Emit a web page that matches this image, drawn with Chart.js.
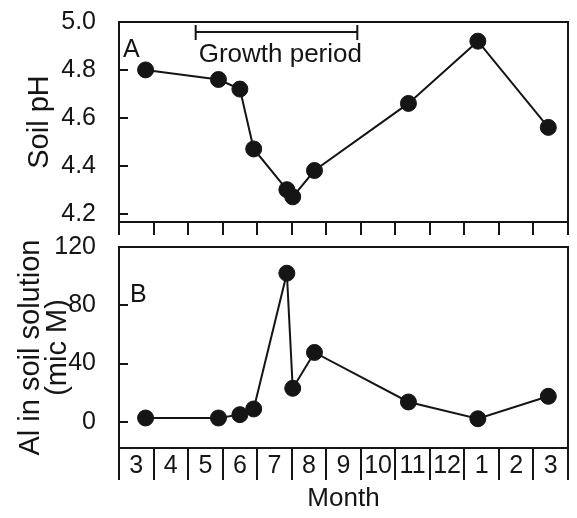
<!DOCTYPE html>
<html><head><meta charset="utf-8">
<script src="https://cdn.jsdelivr.net/npm/chart.js@4/dist/chart.umd.min.js"></script>
<style>
html,body{margin:0;padding:0;background:#fff;}
#wrap{position:relative;width:577px;height:518px;overflow:hidden;background:#fff;}
#c1{position:absolute;left:0;top:0;}
#c2{position:absolute;left:0;top:225px;}
</style></head><body>
<div id="wrap">
<canvas id="c1" width="577" height="240"></canvas>
<canvas id="c2" width="577" height="293"></canvas>
</div>
<script>
// sampling dates, in months counted from 1 March (0 = start of March)
const sampleMonths = [0.77, 2.88, 3.50, 3.90, 4.86, 5.03, 5.66, 8.38, 10.39, 12.43];
const phValues = [4.80, 4.76, 4.72, 4.47, 4.30, 4.27, 4.38, 4.66, 4.92, 4.56];
const alValues = [2.6, 2.6, 4.9, 8.8, 102, 23, 47.6, 13.6, 2.1, 17.5];
const monthLabels = ['3','4','5','6','7','8','9','10','11','12','1','2','3'];
const phTicks = [4.2, 4.4, 4.6, 4.8, 5.0];
const alTicks = [0, 40, 80, 120];
const growthPeriod = [2.22, 6.9];

const INK = '#151515';
const FONT = "'Liberation Sans', Arial, Helvetica, sans-serif";
Chart.defaults.font.family = FONT;
Chart.defaults.font.size = 25;
Chart.defaults.color = INK;

const frame = {
  id: 'frame',
  beforeDatasetsDraw(chart) {
    const {ctx, chartArea: a} = chart;
    ctx.save();
    ctx.strokeStyle = INK; ctx.lineWidth = 2;
    ctx.strokeRect(a.left, a.top, a.right - a.left, a.bottom - a.top);
    // inward y ticks
    const y = chart.scales.y;
    ctx.beginPath();
    y.ticks.forEach(t => {
      const p = Math.round(y.getPixelForValue(t.value));
      ctx.moveTo(a.left, p); ctx.lineTo(a.left + 9, p);
    });
    ctx.stroke();
    ctx.restore();
  }
};

const annotA = {
  id: 'annotA',
  afterDatasetsDraw(chart) {
    const {ctx, chartArea: a, scales: {x}} = chart;
    ctx.save();
    ctx.fillStyle = INK; ctx.strokeStyle = INK; ctx.lineWidth = 2;
    ctx.font = '25px ' + FONT; ctx.textBaseline = 'alphabetic'; ctx.textAlign = 'left';
    ctx.fillText('A', a.left + 4, a.top + 35);
    const x0 = x.getPixelForValue(growthPeriod[0]), x1 = x.getPixelForValue(growthPeriod[1]);
    const yb = a.top + 10;
    ctx.beginPath();
    ctx.moveTo(x0, yb); ctx.lineTo(x1, yb);
    ctx.moveTo(x0, yb - 7); ctx.lineTo(x0, yb + 8);
    ctx.moveTo(x1, yb - 7); ctx.lineTo(x1, yb + 8);
    ctx.stroke();
    ctx.font = '26px ' + FONT;
    ctx.fillText('Growth period', x0 + 3, a.top + 40);
    ctx.restore();
  }
};

const annotB = {
  id: 'annotB',
  afterDatasetsDraw(chart) {
    const {ctx, chartArea: a} = chart;
    ctx.save();
    ctx.fillStyle = INK;
    ctx.font = '25px ' + FONT; ctx.textBaseline = 'alphabetic'; ctx.textAlign = 'left';
    ctx.fillText('B', a.left + 11, a.top + 55);
    ctx.restore();
  }
};

function lineDataset(values) {
  return {
    data: sampleMonths.map((m, i) => ({x: m, y: values[i]})),
    borderColor: INK, backgroundColor: INK, borderWidth: 2,
    pointRadius: 8, pointBorderWidth: 1, pointBackgroundColor: INK, pointBorderColor: INK,
    tension: 0, clip: false
  };
}

const commonOpts = {
  animation: false, responsive: false, events: [],
  plugins: {legend: {display: false}, tooltip: {enabled: false}}
};

new Chart(document.getElementById('c1'), {
  type: 'line',
  data: {datasets: [lineDataset(phValues)]},
  options: Object.assign({}, commonOpts, {
    layout: {padding: {top: 22, right: 5, left: 0, bottom: 0}},
    scales: {
      x: {
        type: 'linear', min: 0, max: monthLabels.length,
        afterBuildTicks: s => { s.ticks = monthLabels.concat(['']).map((_, i) => ({value: i})); },
        afterFit: s => { s.height = 18; s.paddingLeft = 0; s.paddingRight = 0; },
        ticks: {display: false},
        grid: {drawOnChartArea: false, tickLength: 13, tickColor: INK, lineWidth: 2},
        border: {display: false}
      },
      y: {
        min: 4.165, max: 5.0,
        afterBuildTicks: s => { s.ticks = phTicks.map(v => ({value: v})); },
        afterFit: s => { s.width = 119; s.paddingTop = 0; s.paddingBottom = 0; },
        ticks: {padding: 15, callback: v => Number(v).toFixed(1)},
        grid: {display: false},
        border: {display: false},
        title: {display: true, text: 'Soil pH', font: {size: 29, lineHeight: 1}, padding: {top: 25, bottom: 0}}
      }
    }
  }),
  plugins: [frame, annotA]
});

new Chart(document.getElementById('c2'), {
  type: 'line',
  data: {datasets: [lineDataset(alValues)]},
  options: Object.assign({}, commonOpts, {
    layout: {padding: {top: 22, right: 5, left: 0, bottom: 0}},
    scales: {
      x: {
        type: 'linear', min: 0, max: monthLabels.length,
        afterBuildTicks: s => {
          const t = [];
          for (let i = 0; i <= monthLabels.length; i++) {
            t.push({value: i});
            if (i < monthLabels.length) t.push({value: i + 0.5});
          }
          s.ticks = t;
        },
        afterFit: s => { s.height = 70; s.paddingLeft = 0; s.paddingRight = 0; },
        ticks: {
          autoSkip: false, maxRotation: 0, minRotation: 0, padding: -29,
          callback: v => Number.isInteger(v) ? '' : monthLabels[Math.floor(v)]
        },
        grid: {
          drawOnChartArea: false, tickLength: 32, lineWidth: 2,
          tickColor: c => (c.tick && Number.isInteger(c.tick.value)) ? INK : 'rgba(0,0,0,0)'
        },
        border: {display: false},
        title: {display: true, text: 'Month', font: {size: 26}, padding: {top: 0, bottom: 4}}
      },
      y: {
        min: -18, max: 120,
        afterBuildTicks: s => { s.ticks = alTicks.map(v => ({value: v})); },
        afterFit: s => { s.width = 119; s.paddingTop = 0; s.paddingBottom = 0; },
        ticks: {padding: 15},
        grid: {display: false},
        border: {display: false},
        title: {display: true, text: ['Al in soil solution', '(mic M)'], font: {size: 29, lineHeight: 0.93}, padding: {top: 17.5, bottom: 0}}
      }
    }
  }),
  plugins: [frame, annotB]
});
</script>
</body></html>
